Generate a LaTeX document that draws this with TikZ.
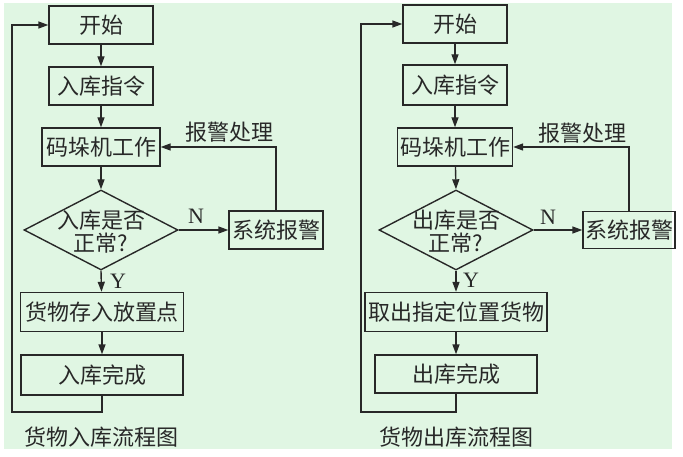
\documentclass[tikz,border=0pt]{standalone}
\usepackage{fontspec}
\newfontfamily\cjk{Noto Sans CJK SC}
\setmainfont{Liberation Serif}
\usetikzlibrary{arrows.meta,shapes.geometric}
\definecolor{bgc}{RGB}{224,246,227}
\definecolor{lnc}{RGB}{40,40,40}
\begin{document}
\begin{tikzpicture}[x=1pt,y=-1pt,
  box/.style={draw=lnc,line width=1.4pt,rectangle,inner sep=0pt,minimum height=38pt,font=\cjk\fontsize{22}{24}\selectfont,text=lnc},
  dia/.style={draw=lnc,line width=1.4pt,diamond,inner sep=0pt,minimum width=154pt,minimum height=80pt},
  dtext/.style={align=center,font=\cjk\fontsize{22}{23}\selectfont,text=lnc,inner sep=0pt},
  lab/.style={font=\cjk\fontsize{22}{24}\selectfont,text=lnc,inner sep=0pt},
  yn/.style={font=\fontsize{22}{24}\selectfont,text=lnc,inner sep=0pt},
  arr/.style={draw=lnc,line width=1.4pt,-{Triangle[length=10pt,width=7pt]}}
]
\useasboundingbox (0,0) rectangle (683,457);
\fill[bgc] (4,3) rectangle (672,449);

% ---------- left chart ----------
\node[box,minimum width=104pt] (s1) at (101,25) {开始};
\node[box,minimum width=104pt] (c1) at (101,86) {入库指令};
\node[box,minimum width=118pt] (w1) at (101,147) {码垛机工作};
\node[dia] (d1) at (101,230) {};
\node[dtext] (d1t) at (101,232) {入库是否\\正常?};
\node[box,minimum width=94pt] (a1) at (276,230) {系统报警};
\node[box,minimum width=163pt,minimum height=39pt] (p1) at (102,312) {货物存入放置点};
\node[box,minimum width=162pt,minimum height=40pt] (f1) at (102,375) {入库完成};
\coordinate (l1) at (12,412);
\node[lab] (h1) at (229,132) {报警处理};
\node[yn] (n1) at (196,216) {N};
\node[yn] (y1) at (118,281) {Y};
\node[lab,anchor=west] (cap1) at (24,437) {货物入库流程图};

\draw[arr] (s1) -- (c1);
\draw[arr] (c1) -- (w1);
\draw[arr] (w1) -- (d1.north);
\draw[arr] (d1.east) -- (a1.west);
\draw[arr] (d1.south) -- (p1);
\draw[arr] (p1) -- (f1);
\draw[arr] (a1.north) |- (w1.east);
\draw[arr] (f1.south) |- (l1) |- (s1.west);

% ---------- right chart ----------
\node[box,minimum width=104pt] (s2) at (455,24) {开始};
\node[box,minimum width=104pt,minimum height=40pt] (c2) at (455,85) {入库指令};
\node[box,minimum width=115pt] (w2) at (455,147) {码垛机工作};
\node[dia] (d2) at (456,230) {};
\node[dtext] (d2t) at (456,232) {出库是否\\正常?};
\node[box,minimum width=92pt,minimum height=37pt] (a2) at (629,230) {系统报警};
\node[box,minimum width=182pt,minimum height=39pt] (p2) at (456,312) {取出指定位置货物};
\node[box,minimum width=162pt] (f2) at (456,374) {出库完成};
\coordinate (l2) at (361,412);
\node[lab] (h2) at (582,133) {报警处理};
\node[yn] (n2) at (548,217) {N};
\node[yn] (y2) at (471,280) {Y};
\node[lab,anchor=west] (cap2) at (379,437) {货物出库流程图};

\draw[arr] (s2) -- (c2);
\draw[arr] (c2) -- (w2);
\draw[arr] (w2) -- (d2.north);
\draw[arr] (d2.east) -- (a2.west);
\draw[arr] (d2.south) -- (p2);
\draw[arr] (p2) -- (f2);
\draw[arr] (a2.north) |- (w2.east);
\draw[arr] (f2.south) |- (l2) |- (s2.west);
\end{tikzpicture}
\end{document}
